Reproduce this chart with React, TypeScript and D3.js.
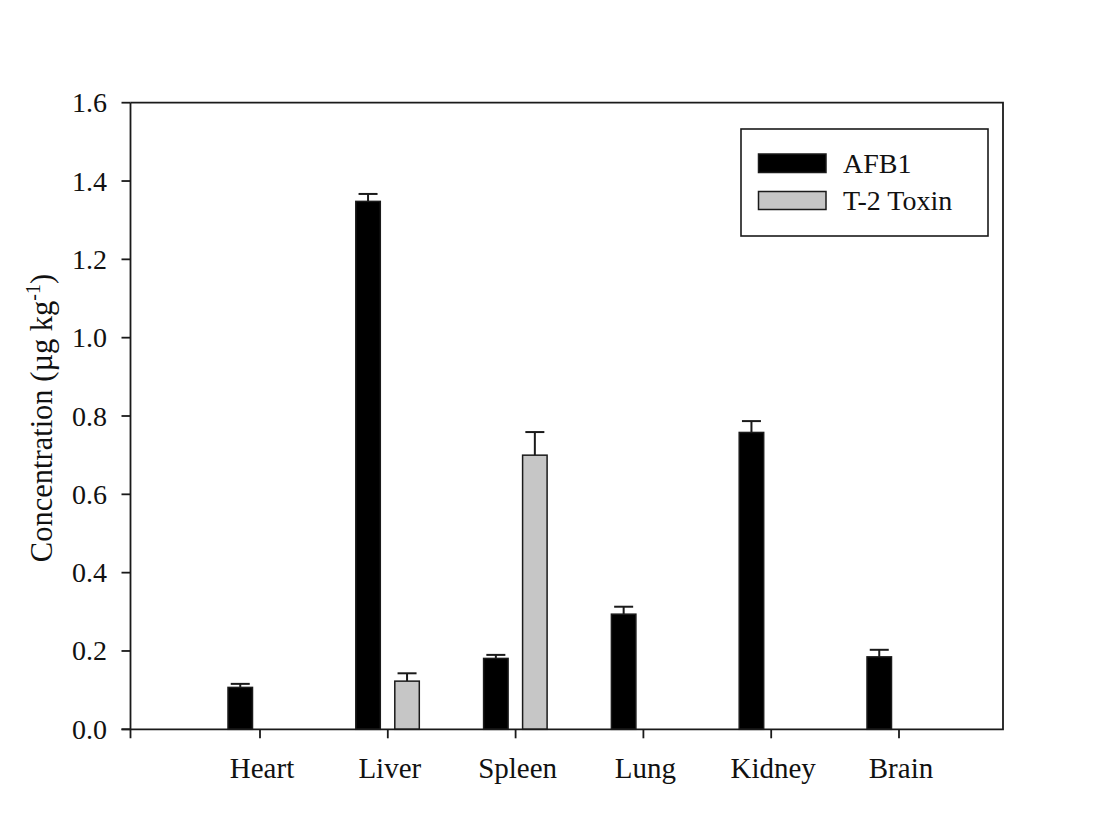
import React from "react";
import * as d3 from "d3";

const categories = ["Heart", "Liver", "Spleen", "Lung", "Kidney", "Brain"];
const afb1Values = [0.107, 1.348, 0.181, 0.294, 0.758, 0.185];
const afb1Errors = [0.009, 0.019, 0.009, 0.019, 0.029, 0.018];
const t2Values = [0, 0.123, 0.7, 0, 0, 0];
const t2Errors = [0, 0.02, 0.059, 0, 0, 0];
const yTicks = [0, 0.2, 0.4, 0.6, 0.8, 1.0, 1.2, 1.4, 1.6];
const seriesNames = ["AFB1", "T-2 Toxin"];

const W = 1106;
const H = 814;
const left = 130.5;
const right = 1003;
const top = 102.7;
const bottom = 729.3;
const FONT = "'Liberation Serif', 'Times New Roman', serif";
const GRAY = "#c6c6c6";
const INK = "#1a1a1a";

export default function App() {
  const y = d3.scaleLinear().domain([0, 1.6]).range([bottom, top]);
  const x = d3.scalePoint<string>().domain(categories).range([260, 899]);
  const barW = 24.5;
  const capW = 19;

  const bars: any[] = [];
  categories.forEach((c, i) => {
    const cx = x(c)!;
    const series = [
      { v: afb1Values[i], e: afb1Errors[i], x0: cx - 32, fill: "#000" },
      { v: t2Values[i], e: t2Errors[i], x0: cx + 7, fill: GRAY },
    ];
    series.forEach((s, j) => {
      if (s.v <= 0) return;
      const bc = s.x0 + barW / 2;
      bars.push(
        <g key={`${c}-${j}`}>
          <line x1={bc} x2={bc} y1={y(s.v)} y2={y(s.v + s.e)} stroke={INK} strokeWidth={2} />
          <line x1={bc - capW / 2} x2={bc + capW / 2} y1={y(s.v + s.e)} y2={y(s.v + s.e)} stroke={INK} strokeWidth={2} />
          <rect x={s.x0} y={y(s.v)} width={barW} height={y(0) - y(s.v)} fill={s.fill} stroke={INK} strokeWidth={1.5} />
        </g>
      );
    });
  });

  return (
    <svg width={W} height={H} style={{ position: "absolute", left: 0, top: 0, background: "#fff" }}>
      <rect x={0} y={0} width={W} height={H} fill="#fff" />
      {bars}
      {/* frame */}
      <path d={`M${left},${top} H${right} V${bottom} H${left - 9}`} fill="none" stroke={INK} strokeWidth={1.8} />
      <line x1={left} x2={left} y1={top} y2={bottom + 9} stroke={INK} strokeWidth={1.8} />
      {/* y ticks */}
      {yTicks.map((t) => (
        <g key={t}>
          <line x1={left - 9} x2={left} y1={y(t)} y2={y(t)} stroke={INK} strokeWidth={1.8} />
          <text x={107} y={y(t)} dy="0.34em" textAnchor="end" fontFamily={FONT} fontSize={28} fill="#111">
            {t.toFixed(1)}
          </text>
        </g>
      ))}
      {/* x ticks */}
      {categories.map((c) => (
        <g key={c}>
          <line x1={x(c)} x2={x(c)} y1={bottom} y2={bottom + 9} stroke={INK} strokeWidth={1.8} />
          <text x={x(c)! + 2} y={778} textAnchor="middle" fontFamily={FONT} fontSize={29} fill="#111">
            {c}
          </text>
        </g>
      ))}
      {/* y label */}
      <text transform={`translate(52,418) rotate(-90)`} textAnchor="middle" fontFamily={FONT} fontSize={30.5} fill="#111">
        Concentration (µg kg<tspan dy={-12} fontSize={20}>-1</tspan><tspan dy={12}>)</tspan>
      </text>
      {/* legend */}
      <rect x={741} y={129} width={247} height={107} fill="#fff" stroke={INK} strokeWidth={1.6} />
      <rect x={758.5} y={154} width={67.5} height={18.5} fill="#000" stroke={INK} strokeWidth={1.5} />
      <rect x={758.5} y={191.5} width={67.5} height={18} fill={GRAY} stroke={INK} strokeWidth={1.5} />
      <text x={843} y={173} fontFamily={FONT} fontSize={28} fill="#111">{seriesNames[0]}</text>
      <text x={843} y={210} fontFamily={FONT} fontSize={28} fill="#111">{seriesNames[1]}</text>
    </svg>
  );
}
